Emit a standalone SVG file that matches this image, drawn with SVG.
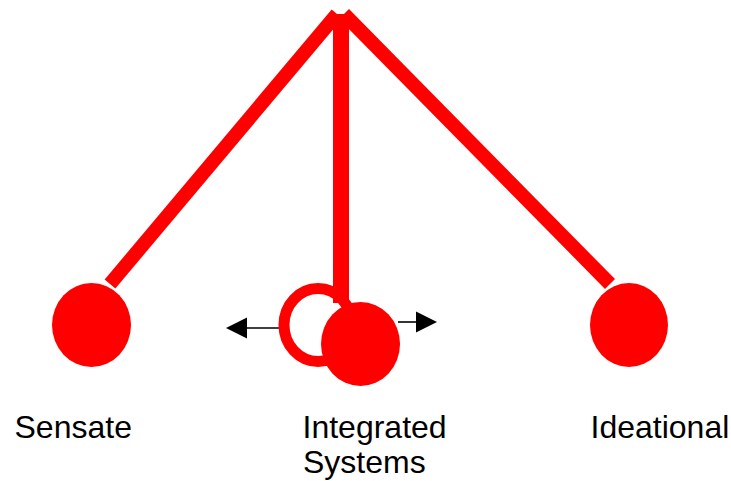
<svg xmlns="http://www.w3.org/2000/svg" width="731" height="481" viewBox="0 0 731 481">
<defs>
<style>
.arm{stroke:#ff0000;stroke-width:14;fill:none;stroke-linecap:butt}
.bob{fill:#ff0000}
.lbl{font-family:"Liberation Sans",Arial,sans-serif;font-size:32px;fill:#000}
.arr{stroke:#000;stroke-width:1.6;fill:none}
</style>
</defs>
<rect width="731" height="481" fill="#fff"/>
<g id="connectors">
<line class="arm" x1="110" y1="284" x2="337" y2="14"/>
<line class="arm" x1="344" y1="14" x2="610" y2="284"/>
<line class="arm" x1="341" y1="14" x2="341" y2="303" style="stroke-width:16"/>
<line class="arr" x1="284" y1="328" x2="246" y2="328"/>
<polygon points="226,328 247,317.5 247,338.5" fill="#000"/>
<line class="arr" x1="398" y1="322" x2="417" y2="322"/>
<polygon points="437,322 416,311.5 416,332.5" fill="#000"/>
</g>
<g id="sensate">
<ellipse class="bob" cx="91.5" cy="325" rx="39.5" ry="42"/>
<text class="lbl" x="14.5" y="438">Sensate</text>
</g>
<g id="integrated">
<ellipse cx="318" cy="325" rx="34" ry="36.5" fill="none" stroke="#ff0000" stroke-width="11"/>
<ellipse class="bob" cx="360.5" cy="344" rx="39.5" ry="42"/>
<text class="lbl" x="302.5" y="438">Integrated</text>
<text class="lbl" x="303" y="473">Systems</text>
</g>
<g id="ideational">
<ellipse class="bob" cx="629" cy="325" rx="39" ry="42"/>
<text class="lbl" x="590.5" y="438">Ideational</text>
</g>
</svg>
